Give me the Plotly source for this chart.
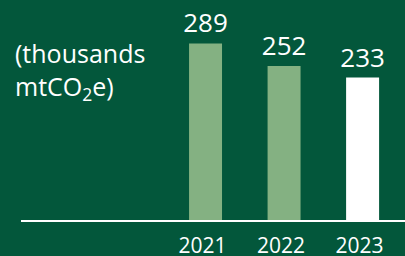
import plotly.graph_objects as go

years = ["2021", "2022", "2023"]
emissions = [289, 252, 233]
unit_label = "(thousands<br>mtCO<sub>2</sub>e)"

BG = "#03573B"
bar_colors = ["#84B182", "#84B182", "#FFFFFF"]
FONT = "Open Sans"

fig = go.Figure(
    go.Bar(
        x=years,
        y=emissions,
        marker=dict(color=bar_colors, line=dict(width=0)),
        width=0.42,
        text=[str(v) for v in emissions],
        textposition="outside",
        constraintext="none",
        textfont=dict(family=FONT, size=26, color="white"),
        cliponaxis=False,
        hoverinfo="skip",
    )
)

fig.update_layout(
    width=405,
    height=256,
    margin=dict(l=21, r=0, t=0, b=36),
    paper_bgcolor=BG,
    plot_bgcolor=BG,
    showlegend=False,
    font=dict(family=FONT, color="white"),
    xaxis=dict(
        type="category",
        range=[-2.35, 2.54],
        showgrid=False,
        zeroline=False,
        showline=True,
        linecolor="white",
        linewidth=2,
        ticks="",
        ticklabelstandoff=6,
        ticklabelshift=-3,
        tickfont=dict(family=FONT, size=21, color="white"),
        fixedrange=True,
        automargin=False,
    ),
    yaxis=dict(
        range=[0, 360],
        visible=False,
        fixedrange=True,
    ),
    annotations=[
        dict(
            text=unit_label,
            xref="paper",
            yref="paper",
            x=-0.02,
            y=0.675,
            xanchor="left",
            yanchor="middle",
            align="left",
            showarrow=False,
            font=dict(family=FONT, size=25, color="white"),
        )
    ],
)

fig.write_html(
    "out.html",
    config={"displayModeBar": False},
    post_script="document.body.style.margin='0';document.body.style.overflow='hidden';",
)
